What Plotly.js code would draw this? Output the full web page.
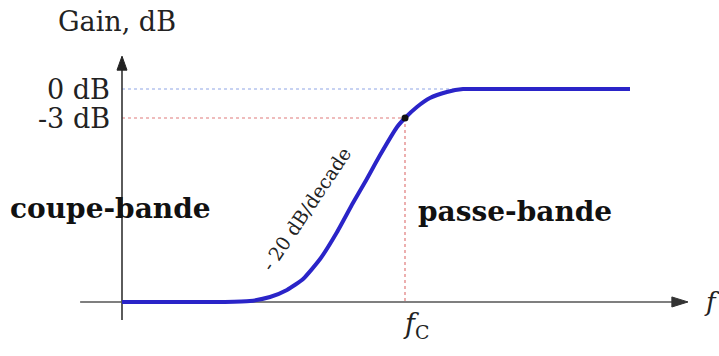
<!DOCTYPE html>
<html><head><meta charset="utf-8">
<script src="https://cdn.plot.ly/plotly-3.0.1.min.js"></script>
<style>html,body{margin:0;padding:0;background:#fff}#chart{width:719px;height:356px}</style>
</head><body><div id="chart"></div>
<script>
// Frequency (arbitrary units, cutoff fc = 10) and gain (dB) of the high-pass response
const freq = [0, 3.64, 4.52, 5.23, 5.83, 6.40, 7.00, 7.60, 8.16, 8.59, 9.12, 9.72, 10, 10.42, 10.88, 11.48, 12.05, 12.65, 17.95];
const gain = [-22.03, -22.03, -21.93, -21.52, -20.79, -19.65, -17.59, -14.79, -11.79, -9.62, -6.83, -3.93, -3, -1.86, -0.93, -0.31, 0, 0, 0];
const fc = 10;
const levels = [0, -3];
const levelLabels = ["0 dB", "-3 dB"];
const levelColors = ["#8fa6e6", "#e07a7a"];
const levelEnds = [12.05, fc];
const xMin = -1.48, xMax = 20.0, yMin = -22.03, yTop = 3.4, yBelow = -23.9;

const serif = "DejaVu Serif";
const traces = [
  {x: freq, y: gain, mode: 'lines', line: {color: '#2a24c8', width: 4, shape: 'spline', smoothing: 0.5}, hoverinfo: 'skip'},
  {x: [fc], y: [-3], mode: 'markers', marker: {color: '#111', size: 7}, hoverinfo: 'skip'}
];
const shapes = [];
levels.forEach((lv, i) => {
  shapes.push({type: 'line', xref: 'x', yref: 'y', x0: 0, x1: levelEnds[i], y0: lv, y1: lv,
    line: {color: levelColors[i], width: 1.2, dash: 'dot'}, layer: 'below'});
});
shapes.push({type: 'line', xref: 'x', yref: 'y', x0: fc, x1: fc, y0: -3, y1: yMin,
  line: {color: '#e07a7a', width: 1.2, dash: 'dot'}, layer: 'below'});
// axes lines
shapes.push({type: 'line', xref: 'x', yref: 'y', x0: 0, x1: 0, y0: yBelow, y1: yTop - 1.2,
  line: {color: '#333', width: 1.6}, layer: 'below'});
shapes.push({type: 'line', xref: 'x', yref: 'y', x0: xMin, x1: xMax - 0.4, y0: yMin, y1: yMin,
  line: {color: '#555', width: 1.6}, layer: 'below'});
// arrow heads (y: 5px half-width = 0.177 units, 14px long = 1.45 dB; x: 16px = 0.57 units, 5px = 0.52 dB)
shapes.push({type: 'path', xref: 'x', yref: 'y',
  path: `M 0 ${yTop} L 0.177 ${yTop - 1.45} L -0.177 ${yTop - 1.45} Z`,
  fillcolor: '#222', line: {color: '#222', width: 1}});
shapes.push({type: 'path', xref: 'x', yref: 'y',
  path: `M ${xMax} ${yMin} L ${xMax - 0.57} ${yMin + 0.52} L ${xMax - 0.57} ${yMin - 0.52} Z`,
  fillcolor: '#333', line: {color: '#333', width: 1}});

const annotations = [
  {x: -0.16, y: 7.03, xref: 'x', yref: 'y', text: 'Gain, dB', showarrow: false, font: {family: serif, size: 27, color: '#222'}},
  {x: 20.85, y: yMin, xref: 'x', yref: 'y', text: '<i>f</i>', showarrow: false, font: {family: serif, size: 26, color: '#222'}},
  {x: 10.4, y: yMin - 2.4, xref: 'x', yref: 'y', text: '<i>f</i><sub>C</sub>', showarrow: false, font: {family: serif, size: 27, color: '#222'}},
  {x: -0.39, y: -12.31, xref: 'x', yref: 'y', text: '<b>coupe-bande</b>', showarrow: false, font: {family: serif, size: 28, color: '#111'}},
  {x: 13.89, y: -12.72, xref: 'x', yref: 'y', text: '<b>passe-bande</b>', showarrow: false, font: {family: serif, size: 28, color: '#111'}},
  {x: 6.5, y: -12.4, xref: 'x', yref: 'y', text: '- 20 dB/decade', textangle: -56, showarrow: false, font: {family: serif, size: 19, color: '#222'}}
];
levels.forEach((lv, i) => {
  annotations.push({x: -0.35, y: lv, xref: 'x', yref: 'y', xanchor: 'right', text: levelLabels[i], showarrow: false, font: {family: serif, size: 27, color: '#222'}});
});

const pxPerX = 28.3, pxPerY = 9.667;
const layout = {
  width: 719, height: 356, margin: {l: 0, r: 0, t: 0, b: 0},
  paper_bgcolor: '#fff', plot_bgcolor: '#fff', showlegend: false,
  xaxis: {range: [-122 / pxPerX, (719 - 122) / pxPerX], visible: false, fixedrange: true},
  yaxis: {range: [(89 - 356) / pxPerY, 89 / pxPerY], visible: false, fixedrange: true},
  shapes: shapes, annotations: annotations
};
Plotly.newPlot('chart', traces, layout, {staticPlot: true});
</script></body></html>
